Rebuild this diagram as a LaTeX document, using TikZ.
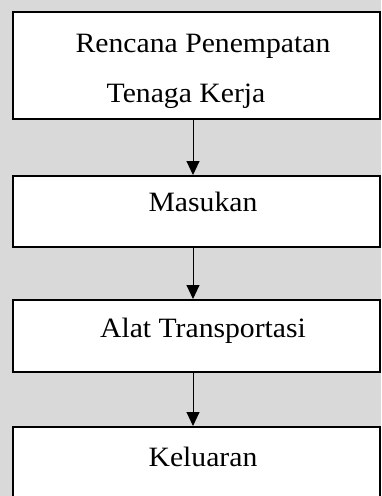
\documentclass[tikz,border=0pt]{standalone}
\usepackage{fontspec}
\setmainfont{Liberation Serif}[FakeStretch=1.06]
\usetikzlibrary{arrows.meta}
\definecolor{bggray}{RGB}{217,217,217}
\tikzset{
  box/.style={draw=black, fill=white, line width=2pt, rectangle, inner sep=0pt, minimum width=367pt},
  txt/.style={anchor=base, inner sep=0pt, font=\fontsize{28}{30}\selectfont},
  arr/.style={draw=black, line width=1pt, -{Triangle[length=14pt,width=13pt]}}
}
\begin{document}
\begin{tikzpicture}[x=1pt,y=-1pt]
\fill[bggray] (0,0) rectangle (381,496);
\useasboundingbox (0,0) rectangle (381,496);
\node[box, minimum height=107pt] (b1) at (196.5,65.5) {};
\node[box, minimum height=71pt] (b2) at (196.5,211.5) {};
\node[box, minimum height=72pt] (b3) at (196.5,336) {};
\node[box, minimum height=74pt] (b4) at (196.5,464) {};
\node[txt] (t1a) at (203,52) {Rencana Penempatan};
\node[txt] (t1b) at (186,102) {Tenaga Kerja};
\node[txt] (t2) at (203,211) {Masukan};
\node[txt] (t3) at (203,337.5) {Alat Transportasi};
\node[txt] (t4) at (203,466) {Keluaran};
\draw[arr] ([xshift=-3.5pt]b1.south) -- ([xshift=-3.5pt]b2.north);
\draw[arr] ([xshift=-3.5pt]b2.south) -- ([xshift=-3.5pt]b3.north);
\draw[arr] ([xshift=-3.5pt]b3.south) -- ([xshift=-3.5pt]b4.north);
\end{tikzpicture}
\end{document}
